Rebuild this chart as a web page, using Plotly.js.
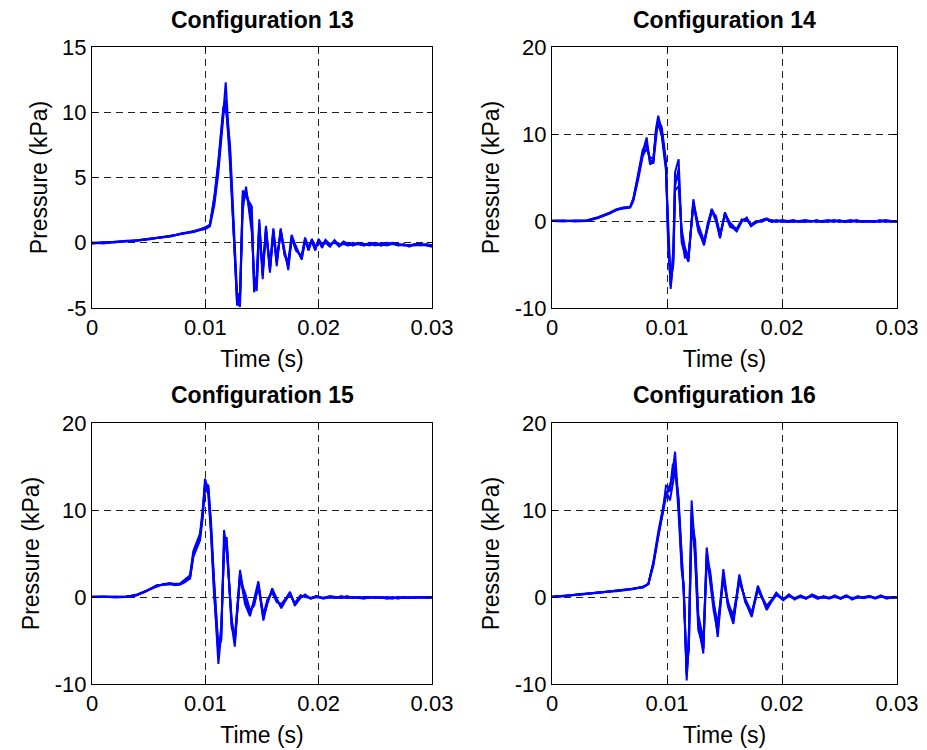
<!DOCTYPE html>
<html>
<head>
<meta charset="utf-8">
<script src="https://cdn.plot.ly/plotly-3.0.1.min.js"></script>
<style>html,body{margin:0;padding:0;background:#fff;}#chart{width:927px;height:750px;}</style>
</head>
<body>
<div id="chart"></div>
<script>
// ---------- Data (time in s, pressure in kPa) ----------
var titles = ["Configuration 13", "Configuration 14", "Configuration 15", "Configuration 16"];
var xTickVals = [0, 0.01, 0.02, 0.03];
var xTickText = ["0", "0.01", "0.02", "0.03"];
var yTicks13 = [-5, 0, 5, 10, 15];
var yTickText13 = ["-5", "0", "5", "10", "15"];
var yTicksOther = [-10, 0, 10, 20];
var yTickTextOther = ["-10", "0", "10", "20"];

var t13 = [0, 0.001, 0.002, 0.003, 0.004, 0.005, 0.006, 0.007, 0.008, 0.009,
  0.0100, 0.0104, 0.0108, 0.01115, 0.01159, 0.0118, 0.01218, 0.01247, 0.0128, 0.01306, 0.0133,
  0.01359, 0.0141, 0.0143, 0.01453, 0.01476, 0.01506, 0.01535, 0.0157, 0.0160, 0.0163,
  0.01665, 0.0170, 0.01732, 0.01762, 0.0180, 0.0185, 0.0188, 0.0191, 0.0194, 0.0197,
  0.0200, 0.0203, 0.0206, 0.0210, 0.0214, 0.0218, 0.0222, 0.0226, 0.0230, 0.0235,
  0.0240, 0.0245, 0.0250, 0.0255, 0.0260, 0.0265, 0.0270, 0.0275, 0.0280, 0.0285,
  0.0290, 0.0295, 0.0300];
var p13a = [-0.05, 0.0, 0.05, 0.1, 0.2, 0.28, 0.38, 0.54, 0.7, 0.85,
  1.1, 1.3, 3.2, 5.9, 10.0, 12.3, 6.6, 1.8, -4.6, -4.9, 4.0,
  3.5, 2.8, -3.8, -3.0, 1.8, -2.8, 1.3, -2.3, 1.0, -1.8,
  1.0, -0.5, -2.1, 0.5, -0.3, -1.3, 0.2, -0.5, 0.3, -0.4,
  0.2, -0.4, 0.2, -0.2, 0.1, -0.3, 0.0, -0.2, -0.1, -0.1,
  -0.2, 0.0, -0.1, -0.2, -0.1, 0.0, -0.2, -0.1, -0.3, -0.1,
  -0.1, -0.15, -0.25];
var p13b = [0.0, -0.05, 0.08, 0.12, 0.15, 0.3, 0.4, 0.5, 0.72, 0.9,
  1.15, 1.4, 3.6, 6.3, 10.4, 10.8, 7.5, 2.5, -3.9, -4.5, 2.5,
  4.3, 0.8, -2.6, -3.4, 1.2, -2.0, 0.9, -1.7, 1.1, -1.2,
  0.7, -0.8, -1.6, 0.4, -0.6, -1.0, 0.4, -0.3, 0.1, -0.6,
  0.3, -0.2, 0.0, -0.3, 0.2, -0.2, -0.1, 0.0, -0.2, 0.0,
  -0.1, -0.2, 0.0, -0.1, -0.2, -0.1, -0.1, -0.2, -0.2, -0.2,
  -0.2, -0.1, -0.2];
var p13c = [-0.05, 0.03, 0.02, 0.15, 0.18, 0.25, 0.42, 0.55, 0.68, 0.88,
  1.05, 1.25, 2.9, 5.4, 9.7, 11.0, 6.0, 1.2, -4.2, -3.8, 3.2,
  3.9, 2.2, -3.3, -2.5, 1.5, -2.5, 1.2, -2.0, 0.6, -1.5,
  0.9, -0.9, -1.8, 0.3, -0.5, -1.1, 0.3, -0.6, 0.2, -0.3,
  0.1, -0.3, 0.2, -0.1, 0.0, -0.2, 0.1, -0.1, -0.2, -0.1,
  -0.1, -0.1, -0.2, -0.1, 0.0, -0.1, -0.2, -0.2, -0.2, -0.1,
  -0.2, -0.2, -0.2];
var p13d = [0.0, 0.0, 0.05, 0.1, 0.2, 0.3, 0.35, 0.5, 0.75, 0.82,
  1.2, 1.35, 3.4, 6.1, 10.2, 10.5, 7.0, 2.0, -4.8, -4.2, 3.6,
  4.0, 1.5, -3.0, -3.7, 1.0, -2.2, 0.8, -2.1, 0.8, -1.4,
  1.1, -1.0, -1.4, 0.6, -0.4, -1.2, 0.1, -0.4, 0.2, -0.5,
  0.2, -0.1, 0.1, -0.2, 0.1, -0.1, -0.1, -0.2, 0.0, -0.1,
  -0.2, -0.1, -0.1, -0.2, -0.1, -0.1, -0.1, -0.2, -0.2, -0.2,
  -0.1, -0.2, -0.3];

var t14 = [0, 0.001, 0.002, 0.003, 0.004, 0.005, 0.0056, 0.0062, 0.0068, 0.00707,
  0.0075, 0.00789, 0.00823, 0.00852, 0.00881, 0.00904, 0.00924, 0.00954, 0.00991, 0.0101,
  0.01032, 0.01055, 0.0107, 0.01101, 0.01128, 0.01155, 0.01186, 0.01229, 0.01272, 0.01322,
  0.01355, 0.01389, 0.01425, 0.01461, 0.01504, 0.0155, 0.01606, 0.0165, 0.01693, 0.0173,
  0.01775, 0.0182, 0.01867, 0.0191, 0.0195, 0.0200, 0.0205, 0.0210, 0.0215, 0.0220,
  0.0225, 0.0230, 0.0235, 0.0240, 0.0245, 0.0250, 0.0255, 0.0260, 0.0265, 0.0270,
  0.0275, 0.0280, 0.0285, 0.0290, 0.0295, 0.0300];
var p14a = [0.0, 0.0, 0.0, 0.05, 0.4, 0.9, 1.3, 1.5, 1.6, 2.5,
  5.2, 7.9, 9.6, 6.5, 6.8, 10.6, 12.1, 10.2, 6.4, -2.0,
  -7.8, -4.0, 5.6, 7.1, -2.0, -3.5, -4.7, 2.5, -0.9, -2.8,
  -0.5, 1.4, 0.3, -2.0, 1.0, -0.5, -1.2, 0.0, 0.3, -0.6,
  -0.2, 0.1, 0.3, -0.1, 0.1, 0.0, -0.1, 0.0, -0.1, 0.0,
  -0.1, 0.1, -0.1, 0.0, -0.1, 0.1, -0.1, 0.0, 0.0, -0.1,
  0.0, -0.1, 0.1, -0.1, 0.0, -0.1];
var p14b = [0.0, 0.05, -0.05, 0.0, 0.35, 0.85, 1.25, 1.45, 1.55, 2.3,
  4.8, 7.5, 8.3, 7.3, 7.2, 10.0, 11.2, 9.8, 5.8, -1.0,
  -6.8, -5.0, 3.5, 4.0, -1.0, -3.0, -4.2, 1.8, -0.4, -2.3,
  -0.8, 1.0, 0.6, -1.5, 0.7, -0.2, -1.0, 0.2, 0.1, -0.4,
  0.0, -0.1, 0.2, 0.0, -0.1, 0.1, 0.0, -0.1, 0.0, 0.1,
  0.0, -0.1, 0.0, 0.1, 0.0, -0.1, 0.0, 0.1, -0.1, 0.0,
  -0.1, 0.0, 0.0, 0.0, -0.1, 0.0];
var p14c = [0.0, -0.05, 0.05, 0.05, 0.45, 0.95, 1.35, 1.55, 1.65, 2.6,
  5.5, 8.2, 8.8, 6.9, 7.0, 10.3, 11.6, 10.8, 7.0, -3.0,
  -7.2, -3.2, 4.6, 5.0, -1.5, -4.2, -4.0, 2.0, -1.2, -2.5,
  -0.2, 1.2, 0.0, -1.8, 0.8, -0.7, -0.9, 0.1, 0.2, -0.5,
  -0.1, 0.0, 0.2, 0.1, 0.0, -0.1, 0.0, 0.1, -0.1, 0.0,
  0.0, 0.0, -0.1, 0.0, 0.0, 0.0, -0.1, 0.0, 0.1, -0.1,
  0.0, -0.1, 0.0, 0.1, 0.0, 0.0];
var p14d = [0.05, 0.0, 0.0, 0.0, 0.38, 0.88, 1.28, 1.5, 1.6, 2.4,
  5.0, 7.7, 9.0, 7.0, 6.6, 9.6, 11.8, 10.5, 6.2, -1.5,
  -7.5, -4.5, 4.0, 6.0, -2.5, -3.8, -4.5, 2.2, -0.6, -2.6,
  -0.6, 1.3, 0.4, -1.7, 0.9, -0.4, -1.1, -0.1, 0.4, -0.5,
  -0.1, 0.1, 0.2, -0.1, 0.0, 0.0, -0.1, 0.0, 0.0, -0.1,
  0.0, 0.0, 0.0, -0.1, 0.1, 0.0, 0.0, -0.1, 0.0, 0.0,
  0.0, 0.0, -0.1, 0.0, 0.0, -0.1];

var t15 = [0, 0.001, 0.002, 0.003, 0.0039, 0.0048, 0.0057, 0.0063, 0.00688, 0.0073,
  0.00776, 0.0082, 0.00865, 0.00894, 0.00953, 0.00976, 0.00997, 0.01026, 0.0105, 0.01076,
  0.01115, 0.0114, 0.01165, 0.01188, 0.01232, 0.0126, 0.01306, 0.0135, 0.01394, 0.0143,
  0.01468, 0.01512, 0.0155, 0.0159, 0.0163, 0.0167, 0.01747, 0.0179, 0.0184, 0.0188,
  0.0193, 0.0198, 0.0204, 0.0210, 0.0215, 0.0220, 0.0225, 0.0230, 0.0235, 0.0240,
  0.0245, 0.0250, 0.0255, 0.0260, 0.0265, 0.0270, 0.0275, 0.0280, 0.0285, 0.0290,
  0.0295, 0.0300];
var p15a = [0.0, 0.0, 0.0, 0.05, 0.2, 0.7, 1.3, 1.45, 1.5, 1.4,
  1.5, 1.9, 2.3, 5.0, 6.9, 9.6, 13.6, 12.3, 8.0, 1.1,
  -7.7, -4.2, 5.7, 6.9, -3.1, -5.7, 3.1, -0.4, -1.9, -0.5,
  1.5, -2.7, -0.5, 0.8, -0.3, -1.1, 0.6, -1.0, 0.0, 0.2,
  -0.2, 0.1, -0.2, 0.0, -0.1, 0.0, -0.1, 0.0, -0.1, -0.2,
  0.0, -0.1, 0.0, -0.2, -0.1, 0.0, -0.1, 0.0, -0.1, 0.0,
  -0.1, 0.0];
var p15b = [0.0, 0.05, -0.05, 0.0, 0.25, 0.75, 1.25, 1.5, 1.55, 1.35,
  1.45, 1.8, 2.1, 4.6, 6.5, 9.0, 12.5, 12.9, 8.8, 2.0,
  -5.7, -5.0, 7.7, 5.5, -2.5, -5.0, 2.0, 0.5, -1.5, -1.0,
  1.2, -2.0, -0.2, 0.5, -0.6, -0.8, 0.4, -0.7, 0.2, 0.0,
  -0.1, 0.0, -0.1, 0.1, 0.0, -0.1, 0.0, -0.1, 0.0, -0.1,
  -0.1, 0.0, -0.1, -0.1, 0.0, -0.2, 0.0, -0.1, 0.0, -0.1,
  0.0, -0.1];
var p15c = [0.0, 0.0, 0.05, 0.05, 0.18, 0.65, 1.35, 1.4, 1.45, 1.45,
  1.55, 2.0, 2.5, 5.3, 7.3, 10.0, 12.8, 11.8, 7.2, 0.5,
  -6.5, -3.5, 5.0, 6.5, -3.5, -4.5, 2.6, -0.8, -2.2, -0.3,
  1.8, -2.3, -0.7, 1.0, -0.2, -1.3, 0.5, -0.9, -0.1, 0.3,
  -0.2, 0.0, -0.1, 0.0, -0.1, 0.1, -0.1, 0.0, -0.1, 0.0,
  0.0, -0.1, 0.0, -0.1, -0.2, 0.0, -0.1, -0.1, 0.0, 0.0,
  -0.1, 0.0];
var p15d = [0.05, 0.0, 0.0, 0.0, 0.22, 0.72, 1.28, 1.42, 1.6, 1.5,
  1.4, 1.7, 2.2, 4.8, 7.0, 9.3, 13.0, 12.6, 7.6, 1.5,
  -6.0, -4.8, 6.2, 6.0, -2.8, -5.3, 2.4, -0.2, -1.7, -0.8,
  1.3, -2.4, -0.4, 0.7, -0.4, -1.0, 0.3, -0.8, 0.1, 0.1,
  -0.1, 0.1, -0.1, -0.1, 0.0, -0.1, 0.1, -0.1, 0.0, -0.1,
  -0.1, 0.0, -0.1, 0.0, -0.1, -0.1, 0.0, -0.1, -0.1, 0.0,
  0.0, -0.1];

var t16 = [0, 0.001, 0.00243, 0.004, 0.00562, 0.007, 0.00794, 0.00838, 0.00881, 0.00925,
  0.00968, 0.00991, 0.01026, 0.0105, 0.0107, 0.011, 0.01128, 0.01145, 0.01171, 0.0119,
  0.01214, 0.01245, 0.01272, 0.01316, 0.01345, 0.01375, 0.01405, 0.01441, 0.0149, 0.0153,
  0.01577, 0.01629, 0.0168, 0.01736, 0.0179, 0.01867, 0.0195, 0.0201, 0.0206, 0.0211,
  0.0216, 0.0221, 0.0226, 0.0231, 0.0236, 0.0241, 0.0246, 0.0251, 0.0256, 0.0261,
  0.0266, 0.0271, 0.0276, 0.0281, 0.0286, 0.0291, 0.0296, 0.0300];
var p16a = [0.0, 0.1, 0.3, 0.5, 0.7, 0.95, 1.15, 1.5, 3.8, 7.3,
  10.3, 12.8, 12.6, 14.5, 16.7, 10.7, 3.8, 1.1, -9.6, -5.0,
  11.1, 5.0, -3.1, -6.5, 5.7, 2.3, -1.1, -4.6, 2.7, -1.1,
  -3.1, 2.3, -0.4, -2.3, 1.1, -1.5, 0.4, -0.4, 0.2, -0.3,
  0.1, -0.2, 0.2, -0.1, 0.0, -0.2, 0.1, -0.1, 0.2, -0.3,
  0.0, -0.1, 0.1, -0.2, 0.1, -0.1, 0.0, -0.1];
var p16b = [0.05, 0.15, 0.25, 0.55, 0.65, 0.9, 1.2, 1.45, 3.6, 7.0,
  10.0, 12.2, 11.1, 13.0, 14.5, 11.5, 4.5, 0.5, -8.0, -6.0,
  9.0, 6.5, -2.0, -5.0, 4.5, 3.0, -0.5, -3.5, 2.0, -0.5,
  -2.5, 1.8, -0.2, -1.8, 0.8, -1.0, 0.3, -0.2, 0.1, -0.2,
  0.2, -0.1, 0.1, -0.2, 0.1, -0.1, 0.0, -0.2, 0.1, -0.1,
  -0.1, 0.0, 0.1, -0.1, 0.0, 0.0, -0.1, 0.0];
var p16c = [0.0, 0.08, 0.35, 0.45, 0.75, 1.0, 1.1, 1.55, 4.0, 7.6,
  10.5, 12.0, 12.2, 15.2, 15.5, 9.8, 3.0, 1.5, -8.8, -4.2,
  10.0, 4.2, -3.8, -5.8, 5.0, 1.5, -1.5, -4.0, 3.2, -0.8,
  -2.8, 2.6, -0.6, -2.0, 1.3, -1.3, 0.5, -0.3, 0.3, -0.2,
  0.0, -0.2, 0.3, 0.0, -0.1, -0.1, 0.2, -0.2, 0.1, -0.2,
  0.1, -0.1, 0.0, -0.1, 0.2, -0.1, 0.0, -0.1];
var p16d = [0.0, 0.12, 0.28, 0.5, 0.72, 0.92, 1.18, 1.5, 3.9, 7.2,
  10.1, 11.5, 12.9, 13.8, 15.0, 11.0, 3.4, 0.8, -9.0, -5.5,
  8.0, 5.5, -2.6, -6.0, 3.8, 2.6, -0.8, -3.0, 2.2, -0.9,
  -2.0, 2.0, -0.3, -2.1, 0.9, -1.2, 0.2, -0.3, 0.1, -0.1,
  0.1, -0.1, 0.2, -0.2, 0.0, -0.1, 0.1, -0.2, 0.1, -0.2,
  0.0, -0.1, 0.1, -0.1, 0.1, -0.2, 0.0, 0.0];

// ---------- Build traces ----------
var panels = [
  {t: t13, series: [p13a, p13b, p13c, p13d], xa: 'x', ya: 'y'},
  {t: t14, series: [p14a, p14b, p14c, p14d], xa: 'x2', ya: 'y2'},
  {t: t15, series: [p15a, p15b, p15c, p15d], xa: 'x3', ya: 'y3'},
  {t: t16, series: [p16a, p16b, p16c, p16d], xa: 'x4', ya: 'y4'}
];
var traces = [];
panels.forEach(function (p) {
  p.series.forEach(function (s) {
    traces.push({x: p.t, y: s, xaxis: p.xa, yaxis: p.ya, type: 'scatter', mode: 'lines',
      line: {color: '#0000ff', width: 2}, hoverinfo: 'skip', showlegend: false});
  });
});

var FONT = 'Liberation Sans, Arial, Helvetica, sans-serif';
function xAxis(domain, anchor) {
  return {domain: domain, anchor: anchor, range: [0, 0.03], tickvals: xTickVals, ticktext: xTickText,
    showline: true, linecolor: '#000', linewidth: 1, mirror: 'ticks', ticks: 'inside', ticklen: 5,
    tickcolor: '#000', showgrid: true, gridcolor: '#222', griddash: '7px,5px', gridwidth: 1,
    zeroline: false, tickfont: {family: FONT, size: 22, color: '#000'},
    title: {text: 'Time (s)', font: {family: FONT, size: 23, color: '#000'}, standoff: 11}};
}
function yAxis(domain, anchor, range, ticks, tickText) {
  return {domain: domain, anchor: anchor, range: range, tickvals: ticks, ticktext: tickText,
    showline: true, linecolor: '#000', linewidth: 1, mirror: 'ticks', ticks: 'inside', ticklen: 5,
    tickcolor: '#000', showgrid: true, gridcolor: '#222', griddash: '7px,5px', gridwidth: 1,
    zeroline: false, tickfont: {family: FONT, size: 22, color: '#000'},
    title: {text: 'Pressure (kPa)', font: {family: FONT, size: 23, color: '#000'}, standoff: 8}};
}
var xL = [92 / 927, 432 / 927], xR = [552 / 927, 897 / 927];
var yT = [(750 - 308) / 750, (750 - 47) / 750], yB = [(750 - 684) / 750, (750 - 423) / 750];

var annotations = [
  {text: '<b>' + titles[0] + '</b>', x: (xL[0] + xL[1]) / 2, y: (750 - 20) / 750},
  {text: '<b>' + titles[1] + '</b>', x: (xR[0] + xR[1]) / 2, y: (750 - 20) / 750},
  {text: '<b>' + titles[2] + '</b>', x: (xL[0] + xL[1]) / 2, y: (750 - 395) / 750},
  {text: '<b>' + titles[3] + '</b>', x: (xR[0] + xR[1]) / 2, y: (750 - 395) / 750}
].map(function (a) {
  a.xref = 'paper'; a.yref = 'paper'; a.showarrow = false; a.xanchor = 'center'; a.yanchor = 'middle';
  a.font = {family: FONT, size: 23, color: '#000'};
  return a;
});

var layout = {
  width: 927, height: 750, margin: {l: 0, r: 0, t: 0, b: 0},
  paper_bgcolor: '#fff', plot_bgcolor: '#fff', showlegend: false,
  xaxis: xAxis(xL, 'y'), yaxis: yAxis(yT, 'x', [-5, 15], yTicks13, yTickText13),
  xaxis2: xAxis(xR, 'y2'), yaxis2: yAxis(yT, 'x2', [-10, 20], yTicksOther, yTickTextOther),
  xaxis3: xAxis(xL, 'y3'), yaxis3: yAxis(yB, 'x3', [-10, 20], yTicksOther, yTickTextOther),
  xaxis4: xAxis(xR, 'y4'), yaxis4: yAxis(yB, 'x4', [-10, 20], yTicksOther, yTickTextOther),
  annotations: annotations
};
Plotly.newPlot('chart', traces, layout, {displayModeBar: false, staticPlot: true});
</script>
</body>
</html>
